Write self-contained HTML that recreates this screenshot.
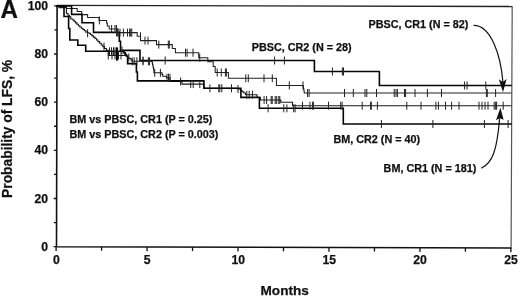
<!DOCTYPE html><html><head><meta charset="utf-8"><style>html,body{margin:0;padding:0;background:#fff;width:520px;height:296px;overflow:hidden}svg{display:block;filter:grayscale(1) blur(0.3px)}text{font-family:"Liberation Sans",sans-serif;font-weight:bold;fill:#111;stroke:#111;stroke-width:0.25px}</style></head><body><svg width="520" height="296" viewBox="0 0 520 296"><path d="M57.10,5.3L512.2,6.5" fill="none" stroke="#222" stroke-width="1.3"/><path d="M512.2,6.5L511.1,248.55" fill="none" stroke="#555" stroke-width="1.2"/><path d="M57.10,5.0L56.50,246.7L511.3,247.95" fill="none" stroke="#111" stroke-width="1.6"/><path d="M56.10,246.70v4.3M147.06,246.95v4.3M238.02,247.20v4.3M328.98,247.45v4.3M419.94,247.70v4.3M510.90,247.95v4.3M101.58,246.82v4M192.54,247.07v4M283.50,247.32v4M374.46,247.57v4M465.42,247.82v4M56.50,246.70h-2.9M56.62,198.52h-2.9M56.74,150.34h-2.9M56.86,102.16h-2.9M56.98,53.98h-2.9M57.10,5.80h-2.9M56.56,222.61h-2.7M56.68,174.43h-2.7M56.80,126.25h-2.7M56.92,78.07h-2.7M57.04,29.89h-2.7" stroke="#111" stroke-width="1.3" fill="none"/><text x="48" y="250.70" font-size="12.2" text-anchor="end">0</text><text x="48" y="202.52" font-size="12.2" text-anchor="end">20</text><text x="48" y="154.34" font-size="12.2" text-anchor="end">40</text><text x="48" y="106.16" font-size="12.2" text-anchor="end">60</text><text x="48" y="57.98" font-size="12.2" text-anchor="end">80</text><text x="48" y="9.80" font-size="12.2" text-anchor="end">100</text><text x="56.30" y="264.4" font-size="12.2" text-anchor="middle">0</text><text x="147.26" y="264.4" font-size="12.2" text-anchor="middle">5</text><text x="238.22" y="264.4" font-size="12.2" text-anchor="middle">10</text><text x="329.18" y="264.4" font-size="12.2" text-anchor="middle">15</text><text x="420.14" y="264.4" font-size="12.2" text-anchor="middle">20</text><text x="511.10" y="264.4" font-size="12.2" text-anchor="middle">25</text><text x="284.7" y="294.9" font-size="13.6" text-anchor="middle">Months</text><text transform="translate(11.8,128.9) rotate(-90)" font-size="13.8" text-anchor="middle">Probability of LFS, %</text><text transform="translate(0.6,17.8) scale(0.93,1)" font-size="26" stroke="#111" stroke-width="0.5">A</text><text x="368.5" y="27.6" font-size="10.8">PBSC, CR1 (N = 82)</text><text x="251.7" y="50.8" font-size="10.8">PBSC, CR2 (N = 28)</text><text x="69.5" y="122.6" font-size="10.8">BM vs PBSC, CR1 (P = 0.25)</text><text x="69.5" y="137.8" font-size="10.8">BM vs PBSC, CR2 (P = 0.003)</text><text x="333.4" y="143" font-size="10.8">BM, CR2 (N = 40)</text><text x="383.6" y="172" font-size="10.8">BM, CR1 (N = 181)</text><path d="M473.6,25.3C490.8,25.07 500.8,54.9 502.9,82" fill="none" stroke="#111" stroke-width="1.2"/><path d="M498.8,79.3L503,92.2L506.6,79L502.8,82Z" fill="#111"/><path d="M481.3,168.3C492.46,162.82 496.94,150.9 499.6,118.5" fill="none" stroke="#111" stroke-width="1.2"/><path d="M496,120.2L500.4,107.7L503.6,119.8L499.6,118.3Z" fill="#111"/><path d="M57.0,6.0H66.5V8.5H77.2V11.4H81.7V14.6H87.6V17.5H99.1V20.4H106.6V23.0H107.3V26.0H109.2V29.0H117.0V32.6H137.2V36.2H140.5V40.6H156.5V44.6H172.3V48.5H175.4V52.7H198.7V57.7H207.8V61.8H213.2V66.4H215.2V72.5H228.4V78.3H276.4V85.4H303.3V86.92H303.54V88.44H303.78V89.96H304.02V91.48H304.26V93.00H304.50H511.0" fill="none" stroke="#222" stroke-width="1.05" stroke-linejoin="miter" stroke-linecap="square"/><path d="M57.0,6.0H59.0V7.6H66.4V11.5V13.50H68.00V15.20H69.40V16.90H70.80V19.00H73.00V20.25H74.25V21.50H75.50V22.90H76.93V24.30H78.37V25.70H79.80V26.97H81.33V28.23H82.87V29.50H84.40V30.80H85.95V32.10H87.50V32.70H88.95V33.30H90.40V34.57H91.93V35.83H93.47V37.10H95.00V38.55H96.50V40.00H98.00V41.65H99.62V43.30H101.25V44.95H102.88V46.60H104.50V48.50H106.40V50.40H108.30V55.5H124.0V55.50H125.25V55.50H126.50V56.50H127.75V57.50H129.00V58.50H131.00V59.90H132.25V61.30H133.50H152.2V62.88H152.54V64.46H152.88V66.04H153.22V67.62H153.56V69.20H153.90V72.8H162.0V74.55H162.70V76.30H163.40H166.4V77.7H170.0V81.5H182.0V84.1H203.9V88.3H237.5V89.0H240.5V90.60H242.00V91.80H243.80V93.00H245.60V94.8H257.0V97.5H260.5V100.0H280.8V102.2H292.5V105.7H511.0" fill="none" stroke="#1a1a1a" stroke-width="1.1" stroke-linejoin="miter" stroke-linecap="square"/><path d="M57.0,6.0H64.0V16.5H68.6V28.5H69.8V40.0H77.8V45.3H85.7V51.3H124.0V52.87H125.20V54.43H126.40V56.00H127.60V63.6H136.4V72.0H137.4V80.9H203.9V88.3H240.9V97.4H259.4V108.3H343.3V124.0H511.0" fill="none" stroke="#050505" stroke-width="1.6" stroke-linejoin="miter" stroke-linecap="square"/><path d="M57.0,6.0H71.6V14.4H82.0V22.8H93.5V32.4H119.3V41.3H120.5V50.4H140.0V60.5H314.4V71.5H379.4V85.5H511.0" fill="none" stroke="#050505" stroke-width="1.6" stroke-linejoin="miter" stroke-linecap="square"/><path d="M99.4,16.4v8M111.6,25.0v8M115,25.0v8M116.5,25.0v8M118,28.6v8M120,28.6v8M123.4,28.6v8M127.5,28.6v8M129.6,28.6v8M130.7,28.6v8M131.8,28.6v8M140.5,32.2v8M145,36.6v8M148,36.6v8M158.8,40.6v8M168.3,40.6v8M169.3,40.6v8M185.5,48.7v8M187.1,48.7v8M193,48.7v8M199.7,53.7v8M217.2,68.5v8M221.3,68.5v8M225.4,68.5v8M226.4,68.5v8M245.8,74.3v8M248.3,74.3v8M264,74.3v8M272.3,74.3v8M289.3,81.4v8M303,81.4v8M307.6,89.0v8M309.1,89.0v8M344.5,89.0v8M353.3,89.0v8M365,89.0v8M366.8,89.0v8M376.5,89.0v8M394.2,89.0v8M396,89.0v8M397.4,89.0v8M404.5,89.0v8M405.6,89.0v8M415,89.0v8M427.4,89.0v8M441.5,89.0v8M486.4,89.0v8M487.3,89.0v8M495.6,89.0v8M87.6,29.3v8M104,42.6v8M108.3,51.5v8M112,51.5v8M115,51.5v8M116.5,51.5v8M117.5,51.5v8M118.5,51.5v8M121,51.5v8M128.8,53.5v8M132.2,57.3v8M134.2,57.3v8M136.9,57.3v8M143,57.3v8M148.4,57.3v8M149.5,57.3v8M154.7,68.8v8M160.4,68.8v8M167,73.7v8M168.5,73.7v8M170,73.7v8M180.6,77.5v8M190.7,80.1v8M193.2,80.1v8M199.8,80.1v8M209.9,84.3v8M218.8,84.3v8M219.8,84.3v8M221.8,84.3v8M231.5,84.3v8M238,85.0v8M246.8,90.8v8M249.2,90.8v8M252.5,90.8v8M264.1,96.0v8M266.6,96.0v8M271.2,96.0v8M272.2,96.0v8M275.2,96.0v8M276.7,96.0v8M278.8,96.0v8M279.8,96.0v8M302.5,101.7v8M310,101.7v8M312.6,101.7v8M313.4,101.7v8M328.5,101.7v8M340.7,101.7v8M342.1,101.7v8M362.2,101.7v8M370.6,101.7v8M371.3,101.7v8M377.4,101.7v8M406.8,101.7v8M421,101.7v8M435.9,101.7v8M438.4,101.7v8M445.5,101.7v8M451.6,101.7v8M459,101.7v8M479,101.7v8M482,101.7v8M485,101.7v8M488,101.7v8M494.2,101.7v8M495.7,101.7v8M496.6,101.7v8M503.2,101.7v8M109.5,47.3v8M111.5,47.3v8M113.5,47.3v8M115,47.3v8M116.8,47.3v8M117.3,47.3v8M268.1,104.3v8M283.8,104.3v8M286.9,104.3v8M293.7,104.3v8M295.1,104.3v8M381.4,120.0v8M432.9,120.0v8M484.4,120.0v8M508.1,120.0v8M116.5,28.4v8M117.8,28.4v8M122,46.4v8M143,56.5v8M165.2,56.5v8M274.6,56.5v8M284.4,56.5v8M332.4,67.5v8M342.4,67.5v8M343.5,67.5v8M464.6,81.5v8M467.1,81.5v8M485.8,81.5v8" stroke="#222" stroke-width="1" fill="none"/><path d="M116.9,47.7V60.7" stroke="#000" stroke-width="1.8"/></svg></body></html>
